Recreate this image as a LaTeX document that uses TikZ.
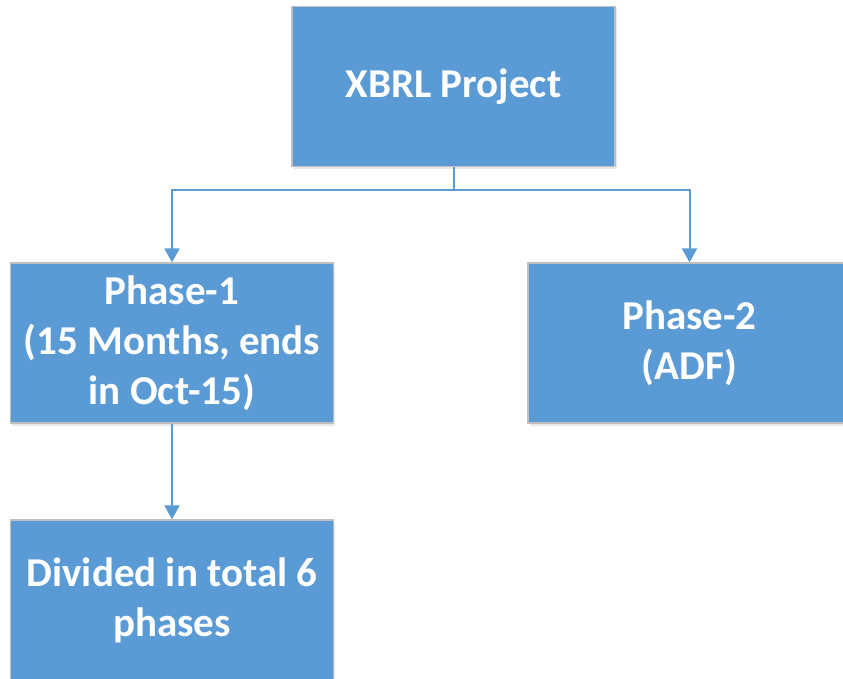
\documentclass[tikz,border=0pt]{standalone}
\usepackage{fontspec}
\setmainfont{Carlito}
\usetikzlibrary{arrows.meta,shadows}
\definecolor{boxblue}{HTML}{5B9BD5}
\definecolor{boxedge}{HTML}{BFBFBF}
\tikzset{
  box/.style={draw=boxedge, line width=1.2pt, fill=boxblue, minimum width=323pt, minimum height=160pt,
    inner sep=0pt, align=center, text=white, font=\fontsize{41}{50}\selectfont\bfseries,
    drop shadow={opacity=0.18, shadow xshift=1.5pt, shadow yshift=-2.5pt}},
  conn/.style={draw=boxblue, line width=2pt, -{Triangle[width=15pt,length=14pt]}}
}
\begin{document}
\begin{tikzpicture}[x=1pt,y=-1pt]
\useasboundingbox (0,0) rectangle (843,679);
\node[box] (top) at (453.5,86.5) {XBRL Project};
\node[box] (p1) at (172,343) {Phase-1\\(15 Months, ends\\in Oct-15)};
\node[box] (p2) at (689.5,343) {Phase-2\\(ADF)};
\node[box] (div) at (172,600) {Divided in total 6\\phases};
\coordinate (j) at (453.5,190.5);
\draw[conn] (top.south) -- (j) -| (p1.north);
\draw[conn] (j) -| (p2.north);
\draw[conn] (p1.south) -- (div.north);
\end{tikzpicture}
\end{document}
